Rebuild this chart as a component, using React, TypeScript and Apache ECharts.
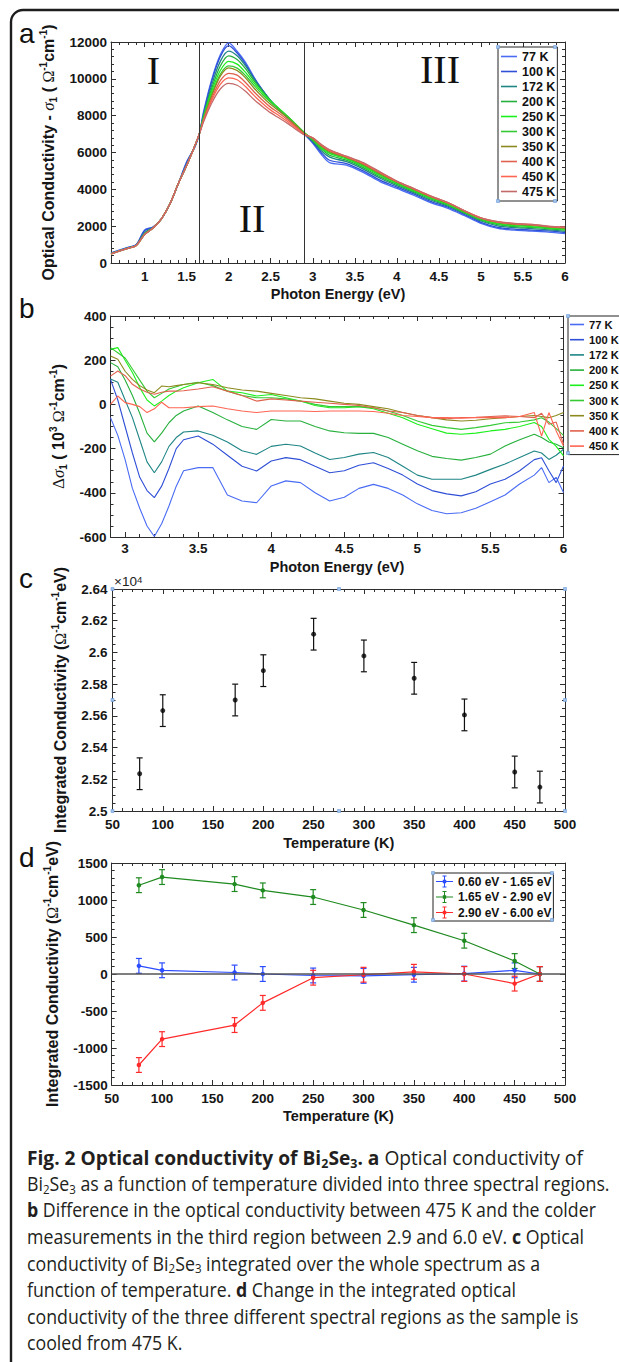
import React, { useEffect, useRef } from 'react';
import * as echarts from 'echarts';

const FONT = '"Liberation Sans", Arial, Helvetica, sans-serif';
const SERIF = '"Liberation Serif", "Times New Roman", serif';
const CAPFONT = '"Open Sans", "Noto Sans", sans-serif';
const AXC = '#2e2e2e';
const TXT = '#161616';

// ---------------- Panel a : optical conductivity ----------------
const energyA = [0.6, 0.8, 0.9, 1.0, 1.1, 1.2, 1.3, 1.4, 1.5, 1.6, 1.65, 1.7, 1.8, 1.9, 2.0, 2.1, 2.2, 2.3, 2.4, 2.5, 2.6, 2.7, 2.8, 2.9, 3.0, 3.1, 3.2, 3.4, 3.6, 3.8, 4.0, 4.2, 4.4, 4.6, 4.8, 5.0, 5.2, 5.4, 5.6, 5.8, 6.0];
const sig77 = [550, 850, 1000, 1800, 1950, 2400, 3200, 4300, 5500, 6300, 7000, 8200, 10000, 11300, 11950, 11500, 10900, 10100, 9400, 8800, 8300, 7900, 7450, 7000, 6500, 5900, 5450, 5320, 4920, 4420, 4050, 3680, 3280, 2980, 2580, 2150, 1880, 1780, 1730, 1680, 1600];
const sig100 = [540, 830, 990, 1750, 1950, 2400, 3200, 4300, 5450, 6350, 7000, 8100, 9900, 11200, 11800, 11400, 10800, 10050, 9400, 8800, 8300, 7900, 7450, 7000, 6550, 6000, 5580, 5400, 5000, 4500, 4120, 3750, 3350, 3040, 2640, 2210, 1940, 1840, 1790, 1740, 1650];
const sig172 = [520, 820, 970, 1650, 1930, 2400, 3200, 4300, 5350, 6400, 7000, 8000, 9700, 10950, 11500, 11250, 10700, 10000, 9380, 8820, 8350, 7930, 7480, 7020, 6600, 6100, 5750, 5500, 5100, 4600, 4200, 3820, 3420, 3100, 2700, 2280, 2020, 1920, 1870, 1800, 1720];
const sig200 = [510, 810, 960, 1600, 1920, 2400, 3200, 4300, 5300, 6400, 7000, 7950, 9500, 10700, 11250, 11050, 10550, 9900, 9330, 8800, 8370, 7950, 7500, 7050, 6650, 6200, 5850, 5580, 5180, 4680, 4270, 3880, 3480, 3150, 2740, 2330, 2080, 1980, 1930, 1860, 1780];
const sig250 = [500, 800, 950, 1560, 1900, 2400, 3200, 4300, 5300, 6400, 7000, 7900, 9350, 10450, 10950, 10800, 10350, 9780, 9250, 8780, 8380, 7970, 7520, 7080, 6700, 6250, 5950, 5650, 5250, 4750, 4320, 3930, 3530, 3200, 2780, 2370, 2130, 2030, 1980, 1900, 1830];
const sig300 = [500, 800, 950, 1550, 1900, 2400, 3200, 4300, 5300, 6400, 7000, 7850, 9200, 10250, 10700, 10580, 10180, 9650, 9150, 8720, 8340, 7950, 7520, 7080, 6700, 6300, 6000, 5700, 5300, 4800, 4360, 3970, 3570, 3230, 2800, 2400, 2170, 2070, 2030, 1940, 1870];
const sig350 = [500, 800, 950, 1550, 1900, 2400, 3200, 4300, 5300, 6400, 7000, 7800, 9100, 10150, 10600, 10450, 10050, 9500, 9020, 8600, 8250, 7880, 7470, 7050, 6750, 6350, 6050, 5730, 5350, 4850, 4400, 4000, 3600, 3260, 2820, 2420, 2200, 2100, 2060, 1960, 1900];
const sig400 = [500, 800, 950, 1550, 1900, 2400, 3200, 4300, 5300, 6400, 7000, 7750, 8950, 9900, 10300, 10200, 9800, 9300, 8850, 8450, 8130, 7780, 7400, 7000, 6780, 6400, 6100, 5760, 5400, 4900, 4420, 4020, 3620, 3280, 2840, 2440, 2220, 2120, 2080, 1980, 1920];
const sig450 = [500, 800, 950, 1550, 1900, 2400, 3200, 4300, 5300, 6400, 7000, 7700, 8850, 9700, 10050, 9950, 9580, 9100, 8680, 8300, 8000, 7680, 7330, 6970, 6800, 6420, 6130, 5780, 5420, 4920, 4440, 4040, 3640, 3290, 2850, 2450, 2240, 2140, 2090, 1990, 1940];
const sig475 = [500, 800, 950, 1550, 1900, 2400, 3200, 4300, 5300, 6400, 7000, 7650, 8700, 9450, 9750, 9650, 9320, 8880, 8500, 8150, 7870, 7580, 7250, 6950, 6800, 6450, 6150, 5800, 5450, 4950, 4450, 4050, 3650, 3300, 2850, 2450, 2250, 2150, 2100, 2000, 1950];
const tempsA = ['77 K', '100 K', '172 K', '200 K', '250 K', '300 K', '350 K', '400 K', '450 K', '475 K'];
const colorsT = ['#4a6cf4', '#2f4fd6', '#1f8585', '#27b03c', '#1cf01c', '#36c936', '#8c8a1e', '#e0614d', '#ff6552', '#c46a6a'];
const regionLines = [1.65, 2.9];
const ticksA = [1, 1.5, 2, 2.5, 3, 3.5, 4, 4.5, 5, 5.5, 6];

// ---------------- Panel b : difference to 475 K ----------------
const energyB = [2.9, 2.95, 3.0, 3.05, 3.1, 3.15, 3.2, 3.25, 3.3, 3.35, 3.4, 3.5, 3.6, 3.7, 3.8, 3.9, 4.0, 4.1, 4.2, 4.3, 4.4, 4.5, 4.6, 4.7, 4.8, 4.9, 5.0, 5.1, 5.2, 5.3, 5.4, 5.5, 5.6, 5.7, 5.8, 5.85, 5.9, 5.95, 6.0];
const d77 = [-60, -140, -250, -380, -470, -550, -598, -540, -460, -370, -300, -286, -286, -410, -437, -445, -369, -346, -354, -400, -437, -420, -380, -362, -380, -410, -450, -480, -495, -490, -470, -440, -410, -360, -320, -286, -354, -330, -399];
const d100 = [113, 20, -100, -220, -330, -390, -422, -370, -290, -200, -160, -143, -180, -230, -280, -301, -256, -241, -250, -280, -309, -300, -275, -264, -290, -320, -360, -390, -405, -414, -395, -360, -339, -300, -250, -241, -300, -354, -279];
const d172 = [115, 100, 20, -60, -160, -260, -309, -260, -190, -150, -125, -120, -140, -170, -210, -226, -190, -180, -188, -220, -249, -240, -225, -218, -240, -280, -320, -339, -339, -339, -320, -294, -270, -240, -211, -220, -249, -230, -203];
const d200 = [189, 170, 110, 40, -40, -130, -170, -130, -83, -50, -30, -7, -37, -70, -100, -113, -68, -75, -75, -100, -120, -128, -131, -131, -150, -180, -210, -235, -245, -252, -240, -225, -188, -160, -135, -150, -170, -180, -196];
const d250 = [249, 257, 200, 144, 76, 20, -7, 15, 40, 60, 75, 98, 113, 60, 53, 38, 45, 30, 15, -5, -15, -15, -10, -20, -40, -60, -90, -110, -130, -135, -130, -120, -113, -100, -82, -100, -158, -190, -233];
const d300 = [257, 234, 210, 160, 110, 60, 30, 50, 70, 80, 90, 100, 85, 60, 40, 30, 30, 25, 15, 0, -10, -10, -10, -15, -30, -50, -75, -95, -105, -113, -105, -95, -83, -80, -70, -60, -80, -110, -140];
const d350 = [219, 204, 150, 113, 85, 65, 53, 83, 80, 85, 90, 98, 90, 75, 65, 60, 50, 40, 30, 25, 15, 5, 0, -10, -20, -37, -50, -60, -70, -75, -72, -65, -60, -55, -50, -55, -60, -50, -37];
const d400 = [128, 151, 130, 91, 70, 55, 46, 55, 60, 60, 62, 70, 80, 60, 40, 15, 25, 20, 15, 10, 5, 0, -5, -15, -30, -37, -50, -60, -65, -60, -58, -55, -52, -55, -60, -40, -90, -80, -180];
const d450 = [0, 38, 8, 0, -10, -37, -20, 10, -15, -15, -15, -10, -7, -20, -30, -37, -30, -30, -30, -32, -30, -30, -30, -32, -40, -50, -55, -60, -60, -62, -60, -60, -60, -55, -37, -143, -37, -120, -188];
const tempsB = ['77 K', '100 K', '172 K', '200 K', '250 K', '300 K', '350 K', '400 K', '450 K'];
const ticksB = [3, 3.5, 4, 4.5, 5, 5.5, 6];

// ---------------- Panel c : integrated conductivity ----------------
const tempC = [77, 100, 172, 200, 250, 300, 350, 400, 450, 475];
const intC = [25235, 25633, 25700, 25885, 26115, 25978, 25837, 25606, 25246, 25151];
const errC = [100, 100, 100, 100, 100, 100, 100, 100, 100, 100];

// ---------------- Panel d : change per spectral region ----------------
const tempD = [77, 100, 172, 200, 250, 300, 350, 400, 450, 475];
const regionNames = ['0.60 eV - 1.65 eV', '1.65 eV - 2.90 eV', '2.90 eV - 6.00 eV'];
const dRegion1 = [110, 50, 20, 0, -20, -25, -10, 5, 50, 0];
const dRegion2 = [1200, 1310, 1215, 1130, 1040, 865, 660, 450, 175, 0];
const dRegion3 = [-1230, -880, -690, -390, -50, -10, 30, 0, -130, 0];
const errD = [100, 100, 100, 100, 100, 100, 100, 100, 100, 100];
const regionColors = ['#2b4cff', '#1f8a1f', '#ff2a2a'];

const captionLines = [
  '{b|Fig. 2 Optical conductivity of Bi}{bs|2}{b|Se}{bs|3}{b|. a} Optical conductivity of',
  'Bi{s|2}Se{s|3} as a function of temperature divided into three spectral regions.',
  '{b|b} Difference in the optical conductivity between 475 K and the colder',
  'measurements in the third region between 2.9 and 6.0 eV. {b|c} Optical',
  'conductivity of Bi{s|2}Se{s|3} integrated over the whole spectrum as a',
  'function of temperature. {b|d} Change in the integrated optical',
  'conductivity of the three different spectral regions as the sample is',
  'cooled from 475 K.',
];

const steps = (a: number, b: number, s: number) => {
  const out: number[] = [];
  const n = Math.round((b - a) / s);
  for (let i = 0; i <= n; i++) out.push(+(a + s * i).toFixed(3));
  return out;
};

const labelTxt = { color: TXT, fontWeight: 'bold', fontSize: 13.5, fontFamily: FONT };
const nameRich = {
  g: { fontFamily: SERIF, fontStyle: 'italic', fontWeight: 'normal', fontSize: 17, lineHeight: 20, color: TXT },
  d: { fontFamily: SERIF, fontWeight: 'normal', fontSize: 17, lineHeight: 20, color: TXT },
  om: { fontFamily: SERIF, fontWeight: 'normal', fontSize: 16, lineHeight: 20, color: TXT },
  sup: { fontFamily: FONT, fontWeight: 'bold', fontSize: 10, lineHeight: 11, verticalAlign: 'top', color: TXT },
  sub: { fontFamily: FONT, fontWeight: 'bold', fontSize: 10, lineHeight: 11, verticalAlign: 'bottom', color: TXT },
};

function xAxisDef(grid: number, pos: string, min: number, max: number, showLabels: boolean, o: any) {
  const ax: any = {
    type: 'value', gridIndex: grid, position: pos, min, max,
    axisLine: { show: o.noLine ? false : true, onZero: false, lineStyle: { color: AXC, width: 1 } },
    axisTick: { show: true, inside: true, length: o.tickLen ?? 5, lineStyle: { color: AXC, width: 1 } },
    axisLabel: { show: showLabels, margin: o.margin ?? 6, ...labelTxt, formatter: (v: number) => String(v) },
    splitLine: { show: false },
  };
  if (o.interval != null) ax.interval = o.interval;
  if (o.custom) { ax.axisTick.customValues = o.custom; ax.axisLabel.customValues = o.custom; }
  if (o.minorSplit) ax.minorTick = { show: true, splitNumber: o.minorSplit, length: 3, lineStyle: { color: AXC, width: 1 } };
  if (showLabels && o.name) {
    ax.name = o.name; ax.nameLocation = 'middle'; ax.nameGap = o.nameGap;
    ax.nameTextStyle = { color: TXT, fontWeight: 'bold', fontSize: 14.5, fontFamily: FONT };
  }
  return ax;
}

function yAxisDef(grid: number, pos: string, min: number, max: number, interval: number, minorSplit: number, showLabels: boolean, o: any) {
  const ax: any = {
    type: 'value', gridIndex: grid, position: pos, min, max, interval,
    axisLine: { show: true, onZero: false, lineStyle: { color: AXC, width: 1 } },
    axisTick: { show: true, inside: true, length: 5, lineStyle: { color: AXC, width: 1 } },
    minorTick: { show: true, splitNumber: minorSplit, length: 3, lineStyle: { color: AXC, width: 1 } },
    axisLabel: { show: showLabels, margin: o.margin ?? 4, ...labelTxt, formatter: o.formatter || ((v: number) => String(v)) },
    splitLine: { show: false },
  };
  if (showLabels && o.name) {
    ax.name = o.name; ax.nameLocation = 'middle'; ax.nameGap = o.nameGap; ax.nameRotate = 90;
    ax.nameTextStyle = { color: TXT, fontWeight: 'bold', fontSize: 16, lineHeight: 20, fontFamily: FONT, rich: nameRich };
  }
  return ax;
}

function errSeries(t: number[], v: number[], e: number[], xi: number, yi: number, color: string) {
  return {
    type: 'custom', xAxisIndex: xi, yAxisIndex: yi, silent: true, z: 3,
    data: t.map((x, i) => [x, v[i], e[i]]),
    encode: { x: 0, y: 1 },
    renderItem: (_p: any, api: any) => {
      const x = api.value(0), y = api.value(1), er = api.value(2);
      const p1 = api.coord([x, y + er]);
      const p2 = api.coord([x, y - er]);
      const st = { stroke: color, lineWidth: 1.2 };
      return {
        type: 'group', children: [
          { type: 'line', shape: { x1: p1[0], y1: p1[1], x2: p2[0], y2: p2[1] }, style: st },
          { type: 'line', shape: { x1: p1[0] - 3, y1: p1[1], x2: p1[0] + 3, y2: p1[1] }, style: st },
          { type: 'line', shape: { x1: p2[0] - 3, y1: p2[1], x2: p2[0] + 3, y2: p2[1] }, style: st },
        ],
      };
    },
  };
}

function buildOption(capScale: number, firstScale: number) {
  const sigA = [sig77, sig100, sig172, sig200, sig250, sig300, sig350, sig400, sig450, sig475];
  const delB = [d77, d100, d172, d200, d250, d300, d350, d400, d450];
  const dReg = [dRegion1, dRegion2, dRegion3];

  const minorA = steps(0.6, 6, 0.1);
  const minorB = steps(2.9, 6, 0.1);

  const xAxis = [
    xAxisDef(0, 'bottom', 0.6, 6, true, { custom: ticksA, margin: 6, name: 'Photon Energy (eV)', nameGap: 23 }),
    xAxisDef(0, 'top', 0.6, 6, false, { custom: ticksA }),
    xAxisDef(0, 'bottom', 0.6, 6, false, { custom: minorA, tickLen: 3, noLine: true }),
    xAxisDef(0, 'top', 0.6, 6, false, { custom: minorA, tickLen: 3, noLine: true }),
    xAxisDef(1, 'bottom', 2.9, 6, true, { custom: ticksB, margin: 4, name: 'Photon Energy (eV)', nameGap: 22 }),
    xAxisDef(1, 'top', 2.9, 6, false, { custom: ticksB }),
    xAxisDef(1, 'bottom', 2.9, 6, false, { custom: minorB, tickLen: 3, noLine: true }),
    xAxisDef(1, 'top', 2.9, 6, false, { custom: minorB, tickLen: 3, noLine: true }),
    xAxisDef(2, 'bottom', 50, 500, true, { interval: 50, minorSplit: 5, margin: 6, name: 'Temperature (K)', nameGap: 24 }),
    xAxisDef(2, 'top', 50, 500, false, { interval: 50, minorSplit: 5 }),
    xAxisDef(3, 'bottom', 50, 500, true, { interval: 50, minorSplit: 5, margin: 6, name: 'Temperature (K)', nameGap: 23 }),
    xAxisDef(3, 'top', 50, 500, false, { interval: 50, minorSplit: 5 }),
  ];
  const yAxis = [
    yAxisDef(0, 'left', 0, 12000, 2000, 5, true, { name: 'Optical Conductivity - {g|σ}{sub|1} ( {om|Ω}{sup|-1}cm{sup|-1})', nameGap: 46 }),
    yAxisDef(0, 'right', 0, 12000, 2000, 5, false, {}),
    yAxisDef(1, 'left', -600, 400, 200, 4, true, { name: '{d|Δ}{g|σ}{sub|1} ( 10{sup|3} {om|Ω}{sup|-1}cm{sup|-1})', nameGap: 34 }),
    yAxisDef(1, 'right', -600, 400, 200, 4, false, {}),
    yAxisDef(2, 'left', 25000, 26400, 200, 4, true, { name: 'Integrated Conductivity ({om|Ω}{sup|-1}cm{sup|-1}eV)', nameGap: 42, margin: 5, formatter: (v: number) => String(+(v / 10000).toFixed(2)) }),
    yAxisDef(2, 'right', 25000, 26400, 200, 4, false, {}),
    yAxisDef(3, 'left', -1500, 1500, 500, 5, true, { name: 'Integrated Conductivity ({om|Ω}{sup|-1}cm{sup|-1}eV)', nameGap: 40 }),
    yAxisDef(3, 'right', -1500, 1500, 500, 5, false, {}),
  ];

  const series: any[] = [];
  sigA.forEach((arr, i) => {
    const s: any = {
      type: 'line', name: tempsA[i], xAxisIndex: 0, yAxisIndex: 0,
      data: energyA.map((e, j) => [e, arr[j]]),
      symbol: 'none', showSymbol: false, smooth: 0.3,
      lineStyle: { color: colorsT[i], width: 1.3 }, itemStyle: { color: colorsT[i] }, z: 2,
    };
    if (i === 0) {
      s.markLine = {
        silent: true, symbol: ['none', 'none'], label: { show: false },
        lineStyle: { color: '#333', width: 1, type: 'solid' },
        data: regionLines.map((x) => ({ xAxis: x })),
      };
    }
    series.push(s);
  });
  delB.forEach((arr, i) => {
    series.push({
      type: 'line', name: tempsB[i], xAxisIndex: 4, yAxisIndex: 2,
      data: energyB.map((e, j) => [e, arr[j]]),
      symbol: 'none', showSymbol: false,
      lineStyle: { color: colorsT[i], width: 1.1 }, itemStyle: { color: colorsT[i] }, z: 2,
    });
  });
  series.push(errSeries(tempC, intC, errC, 8, 4, '#111'));
  series.push({
    type: 'scatter', name: 'integrated', xAxisIndex: 8, yAxisIndex: 4,
    data: tempC.map((t, i) => [t, intC[i]]), symbol: 'circle', symbolSize: 5,
    itemStyle: { color: '#000' }, z: 4,
  });
  dReg.forEach((arr, i) => {
    const s: any = {
      type: 'line', name: regionNames[i], xAxisIndex: 10, yAxisIndex: 6,
      data: tempD.map((t, j) => [t, arr[j]]),
      symbol: 'circle', symbolSize: 4.5, showSymbol: true,
      lineStyle: { color: regionColors[i], width: 1.2 }, itemStyle: { color: regionColors[i] }, z: 4,
    };
    if (i === 0) {
      s.markLine = {
        silent: true, symbol: ['none', 'none'], label: { show: false },
        lineStyle: { color: '#555', width: 1.6, type: 'solid' },
        data: [{ yAxis: 0 }],
      };
    }
    series.push(s);
    series.push(errSeries(tempD, arr, errD, 10, 6, regionColors[i]));
  });

  const legText = { fontSize: 12.5, fontWeight: 'bold', color: '#111', fontFamily: FONT, lineHeight: 15 };
  const legend = [
    { data: tempsA, orient: 'vertical', left: 498, top: 47, padding: [2, 2, 2, 3], itemGap: 0, itemWidth: 16, itemHeight: 1.6, icon: 'rect', borderColor: '#222', borderWidth: 1, backgroundColor: '#fff', textStyle: legText, selectedMode: false },
    { data: tempsB, orient: 'vertical', left: 568, top: 316, padding: [1, 2, 1, 2], itemGap: 0.2, itemWidth: 14, itemHeight: 1.6, icon: 'rect', borderColor: '#222', borderWidth: 1, backgroundColor: '#fff', textStyle: { ...legText, fontSize: 11.2 }, selectedMode: false },
    { data: regionNames, orient: 'vertical', left: 433, top: 873, padding: [1, 2, 1, 3], itemGap: 0.5, itemWidth: 17, itemHeight: 12, icon: 'path://M0,5.5H17V6.5H0Z M8,0H9V12H8Z M6.5,0H10.5V1H6.5Z M6.5,11H10.5V12H6.5Z M6.8,4.3H10.2V7.7H6.8Z', borderColor: '#222', borderWidth: 1, backgroundColor: '#fff', textStyle: { ...legText, fontSize: 12 }, selectedMode: false },
  ];

  const handles = [[498, 47], [555, 47], [498, 201], [555, 201], [568, 316], [568, 453], [112.5, 589], [339, 589], [565, 589], [112.5, 700], [565, 700], [112.5, 811], [339, 811], [565, 811], [433, 873], [552, 873], [433, 920], [552, 920]];

  const capRich = {
    b: { fontFamily: CAPFONT, fontWeight: 'bold', fontSize: 20, lineHeight: 24, fill: '#231f20' },
    bs: { fontFamily: CAPFONT, fontWeight: 'bold', fontSize: 13, lineHeight: 15, verticalAlign: 'bottom', fill: '#231f20' },
    s: { fontFamily: CAPFONT, fontWeight: 'normal', fontSize: 13, lineHeight: 15, verticalAlign: 'bottom', fill: '#231f20' },
  };
  const capY = [1157.3, 1183.6, 1210, 1236.6, 1263.2, 1289.8, 1316.4, 1343];

  const graphic: any[] = [
    { type: 'rect', silent: true, shape: { x: 11, y: 10, width: 720, height: 1420, r: 12 }, style: { fill: 'none', stroke: '#1d1d1d', lineWidth: 2.4 }, z: 10 },
    ...['a', 'b', 'c', 'd'].map((t, i) => ({
      type: 'text', x: 19, y: [33.5, 308.5, 578.5, 857.5][i],
      style: { text: t, fontFamily: FONT, fontSize: 28, fill: '#111', align: 'left', verticalAlign: 'middle' },
    })),
    ...[['I', 153.5, 70], ['II', 252, 218], ['III', 440, 69]].map(([t, x, y]) => ({
      type: 'text', x, y, style: { text: t, fontFamily: SERIF, fontSize: 40, fill: '#111', align: 'center', verticalAlign: 'middle' },
    })),
    {
      type: 'text', x: 114, y: 589,
      style: {
        text: '×10{s|4}', fontFamily: FONT, fontSize: 13.5, lineHeight: 15, fill: '#222', align: 'left', verticalAlign: 'bottom',
        rich: { s: { fontFamily: FONT, fontSize: 9.5, lineHeight: 9, verticalAlign: 'top', fill: '#222' } },
      },
    },
    ...handles.map(([x, y]) => ({
      type: 'rect', silent: true, shape: { x: x - 1.5, y: y - 1.5, width: 3, height: 3 }, style: { fill: '#9fc2ec', stroke: '#6d9bd6', lineWidth: 0.6 }, z: 20,
    })),
    ...captionLines.map((t, i) => ({
      type: 'text', x: 27, y: capY[i], scaleX: i === 0 ? firstScale : capScale,
      style: { text: t, fontFamily: CAPFONT, fontSize: 20, lineHeight: 24, fill: '#231f20', align: 'left', verticalAlign: 'middle', rich: capRich },
    })),
  ];

  return {
    animation: false,
    backgroundColor: '#fff',
    textStyle: { fontFamily: FONT },
    grid: [
      { left: 111, top: 42, width: 454, height: 221, outerBoundsMode: 'none' },
      { left: 110.5, top: 316, width: 453, height: 221, outerBoundsMode: 'none' },
      { left: 112.5, top: 589, width: 452.5, height: 222, outerBoundsMode: 'none' },
      { left: 111.7, top: 863, width: 453.3, height: 222, outerBoundsMode: 'none' },
    ],
    xAxis, yAxis, series, legend, graphic,
  };
}

export default function App() {
  const ref = useRef<HTMLDivElement>(null);
  useEffect(() => {
    if (!ref.current) return;
    let scale = 0.78;
    let first = 0.84;
    try {
      const ctx = document.createElement('canvas').getContext('2d');
      if (ctx) {
        const m = (t: string, size: number, bold = false) => {
          ctx.font = `${bold ? 'bold ' : ''}${size}px ${CAPFONT}`;
          return ctx.measureText(t).width;
        };
        const w2 = m('Bi', 20) + m('2', 13) + m('Se', 20) + m('3', 13) + m(' as a function of temperature divided into three spectral regions.', 20);
        const w3 = m('b', 20, true) + m(' Difference in the optical conductivity between 475 K and the colder', 20);
        const w7 = m(captionLines[6], 20);
        const w1 = m('Fig. 2 Optical conductivity of Bi', 20, true) + m('2', 13, true) + m('Se', 20, true) + m('3', 13, true) + m('. a', 20, true) + m(' Optical conductivity of', 20);
        const cands = [];
        if (w2 > 0) cands.push(583 / w2);
        if (w3 > 0) cands.push(585 / w3);
        if (w7 > 0) cands.push(579 / w7);
        if (cands.length) scale = Math.min(...cands);
        if (w1 > 0) first = 556 / w1;
      }
    } catch (e) { /* keep default */ }
    const chart = echarts.init(ref.current, null, { renderer: 'svg' });
    chart.setOption(buildOption(scale, first) as any);
    return () => chart.dispose();
  }, []);
  return <div ref={ref} style={{ position: 'absolute', left: 0, top: 0, width: 619, height: 1362, background: '#fff' }} />;
}
